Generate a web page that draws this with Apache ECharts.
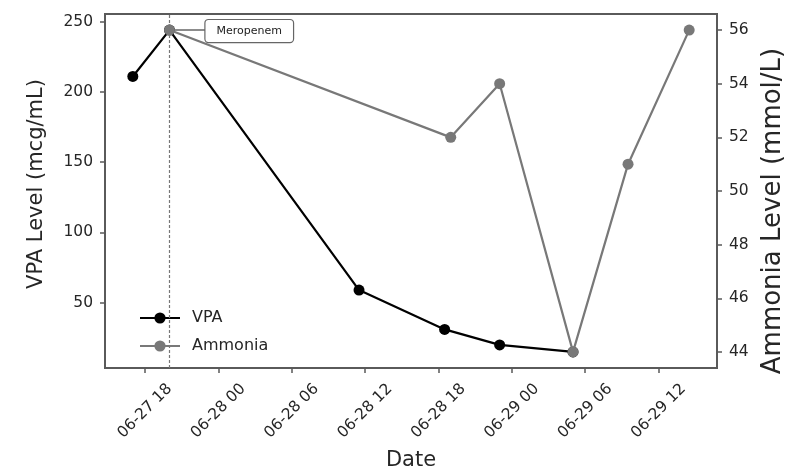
<!DOCTYPE html>
<html>
<head>
<meta charset="utf-8">
<script src="https://cdn.jsdelivr.net/npm/echarts@6/dist/echarts.min.js"></script>
<style>
html,body{margin:0;padding:0;background:#fff;}
#chart{width:785px;height:470px;}
</style>
</head>
<body>
<div id="chart"></div>
<script>
// ---- data ----
const vpaTimes = ['06-27 17:00', '06-27 20:00', '06-28 11:30', '06-28 18:30', '06-28 23:00', '06-29 05:00'];
const vpaValues = [211, 244, 59, 31, 20, 15];
const ammoniaTimes = ['06-27 20:00', '06-28 19:00', '06-28 23:00', '06-29 05:00', '06-29 09:30', '06-29 14:30'];
const ammoniaValues = [56, 52, 54, 44, 51, 56];
const xTickLabels = ['06-27 18', '06-28 00', '06-28 06', '06-28 12', '06-28 18', '06-29 00', '06-29 06', '06-29 12'];
const vpaTicks = [50, 100, 150, 200, 250];
const ammoniaTicks = [44, 46, 48, 50, 52, 54, 56];
const annotationTime = '06-27 20:00';
const annotationText = 'Meropenem';

// hours since 06-27 00:00
function toHours(s) {
  const parts = s.split(' ');
  const md = parts[0].split('-');
  const hm = parts[1].split(':');
  const day = parseInt(md[1], 10);
  return (day - 27) * 24 + parseInt(hm[0], 10) + (hm[1] ? parseInt(hm[1], 10) / 60 : 0);
}
function fmtHours(h) {
  const day = 27 + Math.floor(h / 24 + 1e-9);
  const hr = Math.round(h - (day - 27) * 24);
  return '06-' + day + ' ' + (hr < 10 ? '0' : '') + hr;
}
function padRange(arr) {
  const mn = Math.min.apply(null, arr), mx = Math.max.apply(null, arr);
  const m = (mx - mn) * 0.05;
  return [mn - m, mx + m];
}

const vpaData = vpaTimes.map((t, i) => [toHours(t), vpaValues[i]]);
const ammoniaData = ammoniaTimes.map((t, i) => [toHours(t), ammoniaValues[i]]);
const xRange = padRange(vpaTimes.concat(ammoniaTimes).map(toHours));
const vpaRange = padRange(vpaValues);
const ammRange = padRange(ammoniaValues);
const xTickVals = xTickLabels.map(toHours);

const FONT = 'DejaVu Sans';
const AXIS_COLOR = '#5a5a5a';
const TEXT_COLOR = '#262626';

const chart = echarts.init(document.getElementById('chart'), null, {renderer: 'canvas'});

const option = {
  animation: false,
  backgroundColor: '#fff',
  textStyle: {fontFamily: FONT},
  grid: {
    left: 105, right: 68, top: 14, bottom: 102,
    show: true, borderColor: AXIS_COLOR, borderWidth: 2,
    containLabel: false, outerBoundsMode: 'none'
  },
  legend: {
    orient: 'vertical',
    left: 134, top: 305,
    itemWidth: 40, itemHeight: 14, itemGap: 12,
    textStyle: {fontFamily: FONT, fontSize: 16, color: TEXT_COLOR, padding: [0, 0, 0, 7]},
    data: ['VPA', 'Ammonia']
  },
  xAxis: {
    type: 'value',
    min: xRange[0], max: xRange[1],
    name: 'Date', nameLocation: 'middle', nameGap: 82,
    nameTextStyle: {fontFamily: FONT, fontSize: 21, color: TEXT_COLOR},
    axisLine: {show: true, onZero: false, lineStyle: {color: AXIS_COLOR, width: 2}},
    axisTick: {show: true, length: 5, lineStyle: {color: AXIS_COLOR, width: 1.5}, customValues: xTickVals},
    axisLabel: {
      customValues: xTickVals,
      formatter: v => fmtHours(v),
      rotate: 45, align: 'center', verticalAlign: 'middle', margin: 43,
      fontFamily: FONT, fontSize: 15.5, color: TEXT_COLOR
    },
    splitLine: {show: false}
  },
  yAxis: [{
    type: 'value', position: 'left',
    min: vpaRange[0], max: vpaRange[1],
    name: 'VPA Level (mcg/mL)', nameLocation: 'middle', nameGap: 58,
    nameTextStyle: {fontFamily: FONT, fontSize: 21, color: TEXT_COLOR, padding: [0, 0, 0, 14]},
    axisLine: {show: true, onZero: false, lineStyle: {color: AXIS_COLOR, width: 2}},
    axisTick: {show: true, length: 5, lineStyle: {color: AXIS_COLOR, width: 1.5}, customValues: vpaTicks},
    axisLabel: {customValues: vpaTicks, margin: 12, fontFamily: FONT, fontSize: 15.5, color: TEXT_COLOR},
    splitLine: {show: false}
  }, {
    type: 'value', position: 'right',
    min: ammRange[0], max: ammRange[1],
    name: 'Ammonia Level (mmol/L)', nameLocation: 'middle', nameGap: 43, nameRotate: 90,
    nameTextStyle: {fontFamily: FONT, fontSize: 26, color: TEXT_COLOR, padding: [0, 40, 0, 0]},
    axisLine: {show: true, onZero: false, lineStyle: {color: AXIS_COLOR, width: 2}},
    axisTick: {show: true, length: 5, lineStyle: {color: AXIS_COLOR, width: 1.5}, customValues: ammoniaTicks},
    axisLabel: {customValues: ammoniaTicks, margin: 12, fontFamily: FONT, fontSize: 15.5, color: TEXT_COLOR},
    splitLine: {show: false}
  }],
  series: [{
    name: 'VPA', type: 'line', yAxisIndex: 0,
    data: vpaData,
    symbol: 'circle', symbolSize: 11, showAllSymbol: true,
    lineStyle: {color: '#000', width: 2.2},
    itemStyle: {color: '#000'},
    z: 2,
    markLine: {
      silent: true, symbol: 'none', label: {show: false},
      lineStyle: {color: '#777', width: 1.2, type: [3, 2]},
      data: [{xAxis: toHours(annotationTime)}]
    }
  }, {
    name: 'Ammonia', type: 'line', yAxisIndex: 1,
    data: ammoniaData,
    symbol: 'circle', symbolSize: 11, showAllSymbol: true,
    lineStyle: {color: '#787878', width: 2.2},
    itemStyle: {color: '#787878'},
    z: 3
  }]
};
chart.setOption(option);

// annotation anchored to the ammonia point at the annotation time
const annIdx = ammoniaTimes.indexOf(annotationTime);
const p = chart.convertToPixel({xAxisIndex: 0, yAxisIndex: 1}, ammoniaData[annIdx]);
chart.setOption({
  graphic: [{
    type: 'line', z: 1,
    shape: {x1: p[0], y1: p[1], x2: p[0] + 36, y2: p[1]},
    style: {stroke: '#666', lineWidth: 1.5}
  }, {
    type: 'text', z: 10,
    x: p[0] + 36, y: p[1] + 1,
    style: {
      text: annotationText, fontFamily: FONT, fontSize: 11, fill: '#222',
      verticalAlign: 'middle', align: 'left',
      backgroundColor: '#fff', borderColor: '#666', borderWidth: 1.2, borderRadius: 3,
      padding: [6, 11, 5, 11]
    }
  }]
});
</script>
</body>
</html>
